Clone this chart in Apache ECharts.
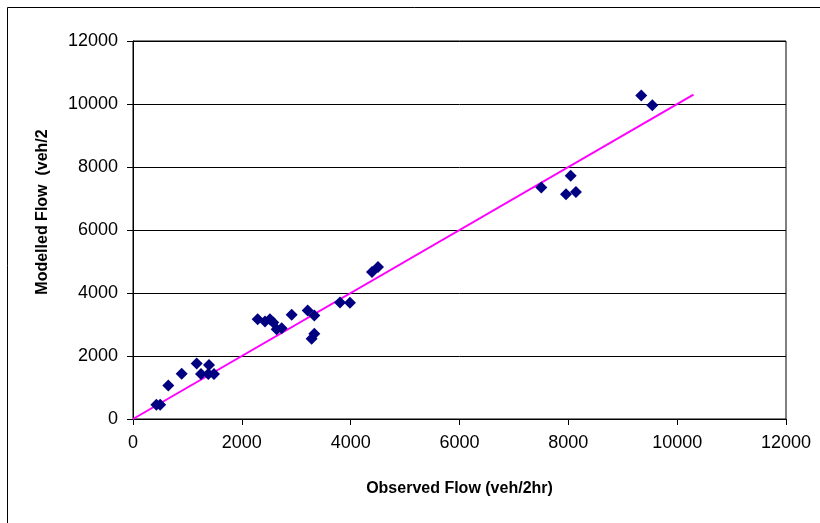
<!DOCTYPE html>
<html>
<head>
<meta charset="utf-8">
<script src="https://cdn.jsdelivr.net/npm/echarts@6/dist/echarts.min.js"></script>
<style>
html,body{margin:0;padding:0;background:#fff;}
#chart{width:820px;height:523px;}
</style>
</head>
<body>
<div id="chart"></div>
<script>
// Observed vs modelled flows (veh/2hr)
const observed = [430, 500, 649, 895, 1170, 1250, 1384, 1397, 1488,
  2291, 2426, 2517, 2578, 2640, 2732, 2916, 3210, 3332, 3332, 3283,
  3804, 3987, 4392, 4502,
  7503, 8043, 7957, 8140, 9340, 9543];
const modelled = [450, 455, 1060, 1440, 1765, 1426, 1426, 1716, 1426,
  3170, 3094, 3170, 3062, 2853, 2884, 3306, 3443, 3284, 2704, 2545,
  3696, 3690, 4669, 4827,
  7353, 7721, 7132, 7204, 10270, 9962];
const lineX = [0, 10300];
const lineY = [0, 10300];
const xTicks = [0, 2000, 4000, 6000, 8000, 10000, 12000];
const yTicks = [0, 2000, 4000, 6000, 8000, 10000, 12000];
const xTitle = 'Observed Flow (veh/2hr)';
const yTitle = 'Modelled Flow  (veh/2';

const chart = echarts.init(document.getElementById('chart'));
const font = "'Liberation Sans', Arial, sans-serif";
chart.setOption({
  animation: false,
  backgroundColor: '#fff',
  graphic: [{
    type: 'rect', left: 5, top: 5, shape: {width: 830, height: 540},
    style: {fill: 'none', stroke: '#000', lineWidth: 1}, silent: true
  }, {
    type: 'text', x: 43, y: 212, rotation: Math.PI / 2,
    style: {text: yTitle, font: "bold 16px 'Liberation Sans', Arial, sans-serif",
      fill: '#000', align: 'center', verticalAlign: 'middle'}, silent: true
  }],
  grid: {left: 133, top: 41, right: 34, bottom: 104, show: true,
    borderColor: '#000', borderWidth: 1, backgroundColor: 'transparent'},
  xAxis: {
    type: 'value', min: xTicks[0], max: xTicks[xTicks.length-1], interval: 2000,
    name: xTitle, nameLocation: 'middle', nameGap: 62,
    nameTextStyle: {fontFamily: font, fontWeight: 'bold', fontSize: 16, color: '#000'},
    axisLine: {lineStyle: {color: '#000', width: 1}},
    axisTick: {show: true, length: 6, lineStyle: {color: '#000'}},
    axisLabel: {fontFamily: font, fontSize: 18, color: '#000', margin: 15,
      formatter: v => String(v)},
    splitLine: {show: false}
  },
  yAxis: {
    type: 'value', min: yTicks[0], max: yTicks[yTicks.length-1], interval: 2000,
    axisLine: {show: true, lineStyle: {color: '#000', width: 1}},
    axisTick: {show: true, length: 6, lineStyle: {color: '#000'}},
    axisLabel: {fontFamily: font, fontSize: 18, color: '#000', margin: 15,
      formatter: v => String(v)},
    splitLine: {show: true, lineStyle: {color: '#000', width: 1}}
  },
  series: [
    {
      type: 'line', data: lineX.map((x, i) => [x, lineY[i]]),
      showSymbol: false, symbol: 'none',
      lineStyle: {color: '#FF00FF', width: 2}, z: 2
    },
    {
      type: 'scatter', data: observed.map((x, i) => [x, modelled[i]]),
      symbol: 'diamond', symbolSize: 12,
      itemStyle: {color: '#000080', opacity: 1}, z: 3
    }
  ]
});
</script>
</body>
</html>
